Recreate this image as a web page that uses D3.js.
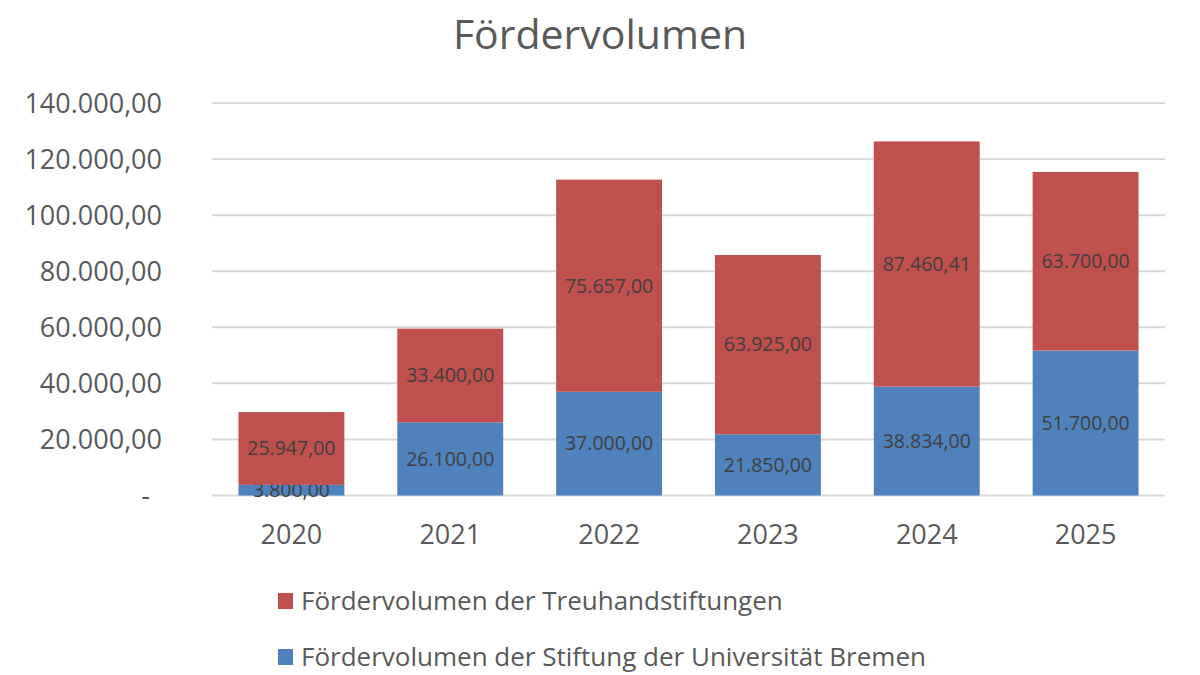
<!DOCTYPE html>
<html>
<head>
<meta charset="utf-8">
<script src="https://cdn.jsdelivr.net/npm/d3@7"></script>
<style>
    body { margin: 0; background: #fff; }
    text { font-family: "Open Sans", sans-serif; }
</style>
</head>
<body>
<div id="chart"></div>
<script>
// data
var years = ["2020", "2021", "2022", "2023", "2024", "2025"];
var stiftungValues = [3800, 26100, 37000, 21850, 38834, 51700];
var treuhandValues = [25947, 33400, 75657, 63925, 87460.41, 63700];
var yTicks = [0, 20000, 40000, 60000, 80000, 100000, 120000, 140000];
var seriesNames = ["Fördervolumen der Treuhandstiftungen", "Fördervolumen der Stiftung der Universität Bremen"];

var width = 1200, height = 675;
var margin = {top: 103, right: 35, bottom: 180, left: 212};
var colors = {stiftung: "#4F81BD", treuhand: "#C0504D"};

var svg = d3.select("#chart").append("svg")
    .attr("width", width)
    .attr("height", height);

// german number format
var de = d3.formatLocale({decimal: ",", thousands: ".", grouping: [3], currency: ["", " €"]});
var fmt = de.format(",.2f");

var x = d3.scaleBand()
    .domain(years)
    .range([margin.left, width - margin.right])
    .paddingInner(1 / 3)
    .paddingOuter(1 / 6);

var y = d3.scaleLinear()
    .domain([0, 140000])
    .range([height - margin.bottom + 0.5, margin.top]);

//title
svg.append("text")
    .attr("x", 600)
    .attr("y", 49)
    .attr("text-anchor", "middle")
    .style("font-size", "41px")
    .attr("fill", "#595959")
    .text("Fördervolumen");

//gridlines
svg.append("g").selectAll("line")
    .data(yTicks)
    .enter().append("line")
    .attr("x1", margin.left)
    .attr("x2", width - margin.right)
    .attr("y1", function (d) { return y(d); })
    .attr("y2", function (d) { return y(d); })
    .attr("stroke", "#D9D9D9")
    .attr("stroke-width", 2);

//y axis, no domain line, no ticks
var yAxis = d3.axisLeft(y)
    .tickValues(yTicks)
    .tickSize(0)
    .tickPadding(0)
    .tickFormat(function (d) { return d === 0 ? "-" : fmt(d); });

var yg = svg.append("g")
    .attr("transform", "translate(" + 162 + ",0)")
    .call(yAxis);
yg.select(".domain").remove();
yg.selectAll("text")
    .style("font-size", "27px")
    .attr("fill", "#595959")
    .attr("dy", "0.35em")
    .attr("dx", function (d) { return d === 0 ? "-12px" : 0; });

//x axis
var xAxis = d3.axisBottom(x).tickSize(0).tickPadding(0);
var xg = svg.append("g")
    .attr("transform", "translate(0," + (y(0) + 48) + ")")
    .call(xAxis);
xg.select(".domain").remove();
xg.selectAll("text")
    .style("font-size", "27px")
    .attr("fill", "#595959")
    .attr("dy", "0");

//stacked bars
var rows = years.map(function (yr, i) {
    return {year: yr, stiftung: stiftungValues[i], treuhand: treuhandValues[i]};
});
var stack = d3.stack().keys(["stiftung", "treuhand"]);
var series = stack(rows);

var groups = svg.append("g").selectAll("g")
    .data(series)
    .enter().append("g")
    .attr("fill", function (d) { return colors[d.key]; });

groups.selectAll("rect")
    .data(function (d) { return d; })
    .enter().append("rect")
    .attr("x", function (d) { return x(d.data.year); })
    .attr("y", function (d) { return y(d[1]); })
    .attr("width", x.bandwidth())
    .attr("height", function (d) { return y(d[0]) - y(d[1]); });

//data labels centered in segments
groups.selectAll("text")
    .data(function (d) { return d; })
    .enter().append("text")
    .attr("x", function (d) { return x(d.data.year) + x.bandwidth() / 2; })
    .attr("y", function (d) { return (y(d[0]) + y(d[1])) / 2; })
    .attr("dy", "0.35em")
    .attr("text-anchor", "middle")
    .style("font-size", "19.5px")
    .attr("fill", "#404040")
    .text(function (d) { return fmt(d[1] - d[0]); });

//legend
var legendColors = [colors.treuhand, colors.stiftung];
var legend = svg.append("g").selectAll("g")
    .data(seriesNames)
    .enter().append("g")
    .attr("transform", function (d, i) { return "translate(278," + (601 + i * 56) + ")"; });

legend.append("rect")
    .attr("x", 0)
    .attr("y", -8)
    .attr("width", 15)
    .attr("height", 16)
    .attr("fill", function (d, i) { return legendColors[i]; });

legend.append("text")
    .attr("x", 23)
    .attr("dy", "0.35em")
    .style("font-size", "26px")
    .attr("fill", "#595959")
    .text(function (d) { return d; });
</script>
</body>
</html>
